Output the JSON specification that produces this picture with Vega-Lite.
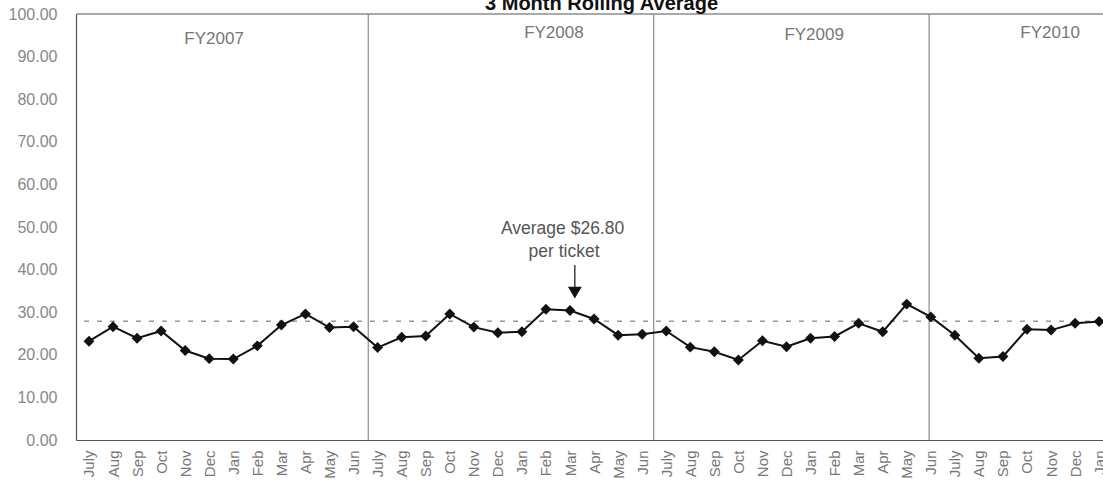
{
  "$schema": "https://vega.github.io/schema/vega-lite/v6.json",
  "autosize": {"type": "none"},
  "padding": {"left": 76, "top": 14, "right": 0, "bottom": 43},
  "width": 1027,
  "height": 426,
  "background": "white",
  "config": {
    "view": {"stroke": null},
    "font": "Liberation Sans"
  },
  "datasets": {
    "series": [
      {"idx": 0, "month": "July", "fy": "FY2007", "value": 23.2},
      {"idx": 1, "month": "Aug", "fy": "FY2007", "value": 26.6},
      {"idx": 2, "month": "Sep", "fy": "FY2007", "value": 23.9},
      {"idx": 3, "month": "Oct", "fy": "FY2007", "value": 25.6},
      {"idx": 4, "month": "Nov", "fy": "FY2007", "value": 21.0},
      {"idx": 5, "month": "Dec", "fy": "FY2007", "value": 19.1},
      {"idx": 6, "month": "Jan", "fy": "FY2007", "value": 19.0},
      {"idx": 7, "month": "Feb", "fy": "FY2007", "value": 22.1},
      {"idx": 8, "month": "Mar", "fy": "FY2007", "value": 27.0},
      {"idx": 9, "month": "Apr", "fy": "FY2007", "value": 29.6},
      {"idx": 10, "month": "May", "fy": "FY2007", "value": 26.4},
      {"idx": 11, "month": "Jun", "fy": "FY2007", "value": 26.6},
      {"idx": 12, "month": "July", "fy": "FY2008", "value": 21.7},
      {"idx": 13, "month": "Aug", "fy": "FY2008", "value": 24.1},
      {"idx": 14, "month": "Sep", "fy": "FY2008", "value": 24.4},
      {"idx": 15, "month": "Oct", "fy": "FY2008", "value": 29.6},
      {"idx": 16, "month": "Nov", "fy": "FY2008", "value": 26.5},
      {"idx": 17, "month": "Dec", "fy": "FY2008", "value": 25.2},
      {"idx": 18, "month": "Jan", "fy": "FY2008", "value": 25.4},
      {"idx": 19, "month": "Feb", "fy": "FY2008", "value": 30.7},
      {"idx": 20, "month": "Mar", "fy": "FY2008", "value": 30.4},
      {"idx": 21, "month": "Apr", "fy": "FY2008", "value": 28.4},
      {"idx": 22, "month": "May", "fy": "FY2008", "value": 24.6},
      {"idx": 23, "month": "Jun", "fy": "FY2008", "value": 24.8},
      {"idx": 24, "month": "July", "fy": "FY2009", "value": 25.6},
      {"idx": 25, "month": "Aug", "fy": "FY2009", "value": 21.8},
      {"idx": 26, "month": "Sep", "fy": "FY2009", "value": 20.7},
      {"idx": 27, "month": "Oct", "fy": "FY2009", "value": 18.8},
      {"idx": 28, "month": "Nov", "fy": "FY2009", "value": 23.3},
      {"idx": 29, "month": "Dec", "fy": "FY2009", "value": 21.9},
      {"idx": 30, "month": "Jan", "fy": "FY2009", "value": 23.9},
      {"idx": 31, "month": "Feb", "fy": "FY2009", "value": 24.3},
      {"idx": 32, "month": "Mar", "fy": "FY2009", "value": 27.4},
      {"idx": 33, "month": "Apr", "fy": "FY2009", "value": 25.4},
      {"idx": 34, "month": "May", "fy": "FY2009", "value": 31.9},
      {"idx": 35, "month": "Jun", "fy": "FY2009", "value": 28.9},
      {"idx": 36, "month": "July", "fy": "FY2010", "value": 24.6},
      {"idx": 37, "month": "Aug", "fy": "FY2010", "value": 19.2},
      {"idx": 38, "month": "Sep", "fy": "FY2010", "value": 19.6},
      {"idx": 39, "month": "Oct", "fy": "FY2010", "value": 26.0},
      {"idx": 40, "month": "Nov", "fy": "FY2010", "value": 25.8},
      {"idx": 41, "month": "Dec", "fy": "FY2010", "value": 27.4},
      {"idx": 42, "month": "Jan", "fy": "FY2010", "value": 27.8}
    ],
    "dividers": [
      {"pos": 11.61},
      {"pos": 23.48},
      {"pos": 34.93}
    ],
    "fylabels": [
      {"label": "FY2007", "pos": 5.2, "level": 94.1},
      {"label": "FY2008", "pos": 19.33, "level": 95.5},
      {"label": "FY2009", "pos": 30.15, "level": 95.1},
      {"label": "FY2010", "pos": 39.96, "level": 95.5}
    ],
    "average": [{"level": 27.9}],
    "border": [{"level": 100}],
    "annotation": [
      {"text": "Average $26.80", "pos": 19.69, "level": 49.5},
      {"text": "per ticket", "pos": 19.75, "level": 44.1}
    ],
    "arrow": [{"pos": 20.2, "from": 41.1, "to": 35.9, "head": 34.6}],
    "title": [{"text": "3 Month Rolling Average", "pos": 21.31, "level": 100.94}]
  },
  "layer": [
    {
      "data": {"name": "border"},
      "mark": {"type": "rule", "color": "#555", "strokeWidth": 1.2},
      "encoding": {
        "y": {"field": "level", "type": "quantitative"}
      }
    },
    {
      "data": {"name": "dividers"},
      "mark": {"type": "rule", "color": "#808080", "strokeWidth": 1.1},
      "encoding": {
        "x": {"field": "pos", "type": "quantitative"}
      }
    },
    {
      "data": {"name": "average"},
      "mark": {"type": "rule", "color": "#666", "strokeWidth": 1, "strokeDash": [5, 8]},
      "encoding": {
        "y": {"field": "level", "type": "quantitative"}
      }
    },
    {
      "data": {"name": "series"},
      "mark": {"type": "line", "color": "#111", "strokeWidth": 2},
      "encoding": {
        "x": {
          "field": "idx",
          "type": "quantitative",
          "scale": {"domain": [-0.54, 42.16], "nice": false, "zero": false},
          "axis": {
            "title": null,
            "values": [0,1,2,3,4,5,6,7,8,9,10,11,12,13,14,15,16,17,18,19,20,21,22,23,24,25,26,27,28,29,30,31,32,33,34,35,36,37,38,39,40,41,42],
            "tickCount": 100,
            "labelExpr": "['July','Aug','Sep','Oct','Nov','Dec','Jan','Feb','Mar','Apr','May','Jun'][datum.value % 12]",
            "labelAngle": -90,
            "labelAlign": "right",
            "labelBaseline": "middle",
            "labelPadding": 10,
            "labelFontSize": 15,
            "labelColor": "#777",
            "labelOverlap": false,
            "labelFlush": false,
            "ticks": false,
            "grid": false,
            "domainColor": "#555",
            "domainWidth": 1.2
          }
        },
        "y": {
          "field": "value",
          "type": "quantitative",
          "scale": {"domain": [0, 100], "nice": false},
          "axis": {
            "title": null,
            "values": [0, 10, 20, 30, 40, 50, 60, 70, 80, 90, 100],
            "tickCount": 20,
            "format": ".2f",
            "labelPadding": 19,
            "labelFontSize": 16,
            "labelColor": "#888",
            "ticks": false,
            "grid": false,
            "domainColor": "#555",
            "domainWidth": 1.2
          }
        }
      }
    },
    {
      "data": {"name": "series"},
      "mark": {"type": "point", "shape": "diamond", "filled": true, "color": "#111", "size": 120, "opacity": 1},
      "encoding": {
        "x": {"field": "idx", "type": "quantitative"},
        "y": {"field": "value", "type": "quantitative"}
      }
    },
    {
      "data": {"name": "fylabels"},
      "mark": {"type": "text", "fontSize": 17, "color": "#777", "align": "center", "baseline": "middle"},
      "encoding": {
        "x": {"field": "pos", "type": "quantitative"},
        "y": {"field": "level", "type": "quantitative"},
        "text": {"field": "label"}
      }
    },
    {
      "data": {"name": "annotation"},
      "mark": {"type": "text", "fontSize": 17.5, "color": "#555", "align": "center", "baseline": "middle"},
      "encoding": {
        "x": {"field": "pos", "type": "quantitative"},
        "y": {"field": "level", "type": "quantitative"},
        "text": {"field": "text"}
      }
    },
    {
      "data": {"name": "arrow"},
      "mark": {"type": "rule", "color": "#222", "strokeWidth": 1.3},
      "encoding": {
        "x": {"field": "pos", "type": "quantitative"},
        "y": {"field": "from", "type": "quantitative"},
        "y2": {"field": "to"}
      }
    },
    {
      "data": {"name": "arrow"},
      "mark": {"type": "point", "shape": "triangle-down", "filled": true, "color": "#111", "size": 190, "opacity": 1},
      "encoding": {
        "x": {"field": "pos", "type": "quantitative"},
        "y": {"field": "head", "type": "quantitative"}
      }
    },
    {
      "data": {"name": "title"},
      "mark": {"type": "text", "fontSize": 20, "fontWeight": "bold", "color": "#111", "align": "center", "baseline": "alphabetic"},
      "encoding": {
        "x": {"field": "pos", "type": "quantitative"},
        "y": {"field": "level", "type": "quantitative"},
        "text": {"field": "text"}
      }
    }
  ]
}
